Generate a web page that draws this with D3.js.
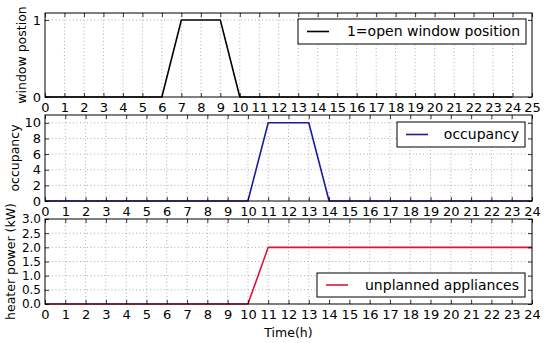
<!DOCTYPE html>
<html><head><meta charset="utf-8">
<script src="https://cdn.jsdelivr.net/npm/d3@7"></script>
<style>body{margin:0;background:#fff}svg{display:block}text{font-family:"DejaVu Sans",sans-serif;fill:#000}</style>
</head><body><svg id="c" width="550" height="343"></svg>
<script>
const hours = d3.range(0, 25);
const windowPos = [0,0,0,0,0,0,0,1,1,1,0,0,0,0,0,0,0,0,0,0,0,0,0,0,0];
const occupancy = [0,0,0,0,0,0,0,0,0,0,0,10,10,10,0,0,0,0,0,0,0,0,0,0,0];
const heater = [0,0,0,0,0,0,0,0,0,0,0,2,2,2,2,2,2,2,2,2,2,2,2,2,2];
const xTicksTop = d3.range(0, 26);
const xTicksOther = d3.range(0, 25);
const yTicksWin = [0, 1];
const yTicksOcc = [0, 2, 4, 6, 8, 10];
const yTicksHeat = [0, 0.5, 1.0, 1.5, 2.0, 2.5, 3.0];

const svg = d3.select("#c");
const L = 45, R = 532;
const panels = [
  {top:13, bot:97, xmax:25, xt:xTicksTop, ymax:1.09, yt:yTicksWin, yfmt:d3.format("d"), yfs:13, data:windowPos, color:"#000000",
   ylabel:"window postion", ylx:26, leg:{x:298,y:19,w:228,h:25,text:"1=open window position"}},
  {top:115, bot:201, xmax:24, xt:xTicksOther, ymax:11, yt:yTicksOcc, yfmt:d3.format("d"), yfs:13, data:occupancy, color:"#1a1a9e",
   ylabel:"occupancy", ylx:19, leg:{x:397,y:122,w:128,h:25,text:"occupancy"}},
  {top:219, bot:304, xmax:24, xt:xTicksOther, ymax:3, yt:yTicksHeat, yfmt:d3.format(".1f"), yfs:12, data:heater, color:"#dc143c",
   ylabel:"heater power (kW)", ylx:15, leg:{x:317,y:273,w:208,h:24,text:"unplanned appliances"}}
];

panels.forEach(p => {
  const x = d3.scaleLinear().domain([0, p.xmax]).range([L, R]);
  const y = d3.scaleLinear().domain([0, p.ymax]).range([p.bot, p.top]);
  const g = svg.append("g");
  // grid
  g.selectAll(".gx").data(p.xt.filter(v => v > 0 && v < p.xmax)).enter().append("line")
    .attr("x1", d => x(d)).attr("x2", d => x(d)).attr("y1", p.top).attr("y2", p.bot)
    .attr("stroke", "#9a9a9a").attr("stroke-width", 0.8).attr("stroke-dasharray", "1,2.5");
  g.selectAll(".gy").data(p.yt.filter(v => v > 0 && v < p.ymax)).enter().append("line")
    .attr("x1", L).attr("x2", R).attr("y1", d => y(d)).attr("y2", d => y(d))
    .attr("stroke", "#9a9a9a").attr("stroke-width", 0.8).attr("stroke-dasharray", "1,2.5");
  // line
  const xs = hours.filter(h => h <= p.xmax && h < p.data.length);
  g.append("path").datum(xs)
    .attr("fill", "none").attr("stroke", p.color).attr("stroke-width", 1.6)
    .attr("d", d3.line().x(d => x(d)).y(d => y(p.data[d])));
  // axes with inward ticks
  const ax = d3.axisBottom(x).tickValues(p.xt).tickSize(-4).tickPadding(6).tickFormat(d3.format("d"));
  const gxA = g.append("g").attr("transform", `translate(0,${p.bot})`).call(ax);
  const axT = d3.axisTop(x).tickValues(p.xt).tickSize(-4).tickFormat("");
  const gxT = g.append("g").attr("transform", `translate(0,${p.top})`).call(axT);
  const ay = d3.axisLeft(y).tickValues(p.yt).tickSize(-4).tickPadding(4).tickFormat(p.yfmt);
  const gyA = g.append("g").attr("transform", `translate(${L},0)`).call(ay);
  const ayR = d3.axisRight(y).tickValues(p.yt).tickSize(-4).tickFormat("");
  const gyR = g.append("g").attr("transform", `translate(${R},0)`).call(ayR);
  [gxA, gxT, gyA, gyR].forEach(a => {
    a.select(".domain").remove();
    a.selectAll(".tick line").attr("stroke", "#000").attr("stroke-width", 0.8);
    a.selectAll("text").style("font-family", "DejaVu Sans").style("font-size", "13px").attr("fill", "#000");
  });
  gyA.selectAll("text").style("font-size", p.yfs + "px");
  g.append("rect").attr("x", L).attr("y", p.top).attr("width", R - L).attr("height", p.bot - p.top)
    .attr("fill", "none").attr("stroke", "#000").attr("stroke-width", 1);
  // y label
  g.append("text").attr("transform", `translate(${p.ylx},${(p.top + p.bot) / 2}) rotate(-90)`)
    .attr("text-anchor", "middle").style("font-size", "12.5px").text(p.ylabel);
  // legend
  const lg = g.append("g");
  lg.append("rect").attr("x", p.leg.x).attr("y", p.leg.y).attr("width", p.leg.w).attr("height", p.leg.h)
    .attr("fill", "#fff").attr("stroke", "#000").attr("stroke-width", 1);
  const ly = p.leg.y + p.leg.h / 2;
  lg.append("line").attr("x1", p.leg.x + 9).attr("x2", p.leg.x + 31).attr("y1", ly).attr("y2", ly)
    .attr("stroke", p.color).attr("stroke-width", 1.6);
  lg.append("text").attr("x", p.leg.x + p.leg.w - 6).attr("y", ly)
    .attr("dy", "0.35em").attr("text-anchor", "end").style("font-size", "14px").text(p.leg.text);
});

svg.append("text").attr("x", (L + R) / 2).attr("y", 337)
  .attr("text-anchor", "middle").style("font-size", "12.5px").text("Time(h)");
</script></body></html>
